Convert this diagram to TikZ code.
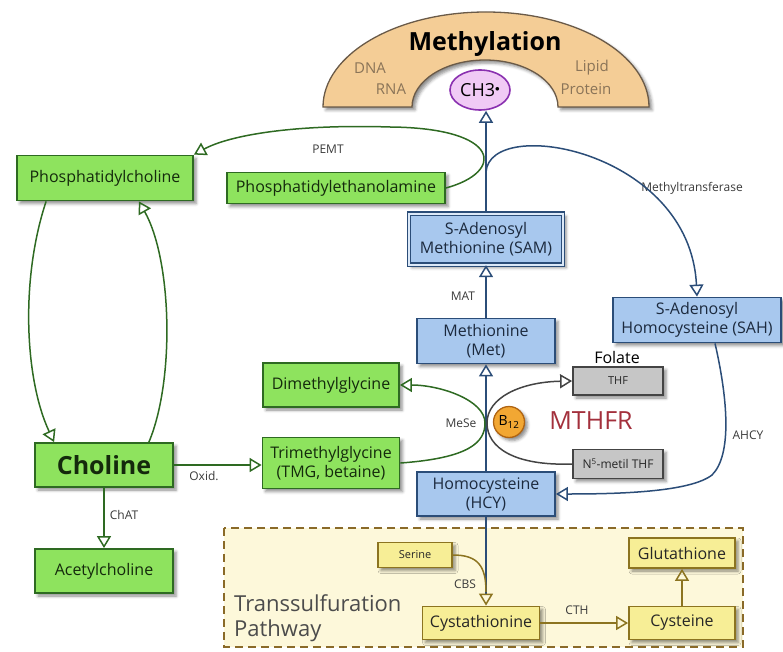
\documentclass[tikz,border=0pt]{standalone}
\usepackage{fontspec}
\setmainfont{Open Sans}
\usetikzlibrary{arrows.meta,shadows.blur,shapes.geometric}

\definecolor{grfill}{HTML}{8EE35E}
\definecolor{grline}{HTML}{2E6A22}
\definecolor{grtext}{HTML}{142A0C}
\definecolor{blfill}{HTML}{A8C8EE}
\definecolor{blline}{HTML}{2B4D78}
\definecolor{bltext}{HTML}{1C2A3E}
\definecolor{gyfill}{HTML}{C6C6C6}
\definecolor{gyline}{HTML}{444444}
\definecolor{ylfill}{HTML}{F7EE96}
\definecolor{ylline}{HTML}{8C7420}
\definecolor{pathfill}{HTML}{FDF8DA}
\definecolor{pathline}{HTML}{8A6A28}
\definecolor{archfill}{HTML}{F4CD96}
\definecolor{archline}{HTML}{6A5A48}
\definecolor{archtext}{HTML}{8A7458}
\definecolor{ch3fill}{HTML}{F0CAF5}
\definecolor{ch3line}{HTML}{8A30B0}
\definecolor{b12fill}{HTML}{F2A733}
\definecolor{b12line}{HTML}{B06412}
\definecolor{enzred}{HTML}{A3303C}
\definecolor{labtext}{HTML}{3A3A3A}

\begin{document}
\begin{tikzpicture}[x=1pt,y=-1pt]
\tikzstyle{every node}+=[inner sep=0pt]
\tikzstyle{shade}=[blur shadow={shadow xshift=3pt,shadow yshift=-3pt,shadow blur radius=3pt,shadow opacity=45}]
\tikzstyle{greenbox}=[draw=grline,fill=grfill,line width=1.8pt,align=center,text=grtext,font=\fontsize{16}{19}\selectfont,shade]
\tikzstyle{bluebox}=[draw=blline,fill=blfill,line width=1.8pt,align=center,text=bltext,font=\fontsize{16}{19}\selectfont,shade]
\tikzstyle{greybox}=[draw=gyline,fill=gyfill,line width=1.8pt,align=center,text=black!85,font=\fontsize{11}{13}\selectfont,shade]
\tikzstyle{yellowbox}=[draw=ylline,fill=ylfill,line width=1.8pt,align=center,text=black!85,font=\fontsize{16}{19}\selectfont,shade]
\tikzstyle{enzyme}=[text=labtext,font=\fontsize{12}{14}\selectfont]
\tikzstyle{flow}=[line width=1.5pt,-{Triangle[open,length=12pt,width=14pt,line width=1.5pt]}]
\useasboundingbox (0,0) rectangle (783,652);

% methylation arch
\draw [archline,fill=archfill,line width=1.3pt,shade] (323,107) arc[start angle=180,end angle=0,x radius=163pt,y radius=95pt] -- (558,107) arc[start angle=0,end angle=180,x radius=73pt,y radius=47pt] -- cycle;
\node (meth) at (485,44) {\fontsize{25}{28}\selectfont\bfseries Methylation};
\node [text=archtext,font=\fontsize{15}{18}\selectfont] (dna) at (370,68) {DNA};
\node [text=archtext,font=\fontsize{15}{18}\selectfont] (rna) at (391,89) {RNA};
\node [text=archtext,font=\fontsize{15}{18}\selectfont] (lipid) at (592,68) {Lipid};
\node [text=archtext,font=\fontsize{15}{18}\selectfont] (protein) at (586,89) {Protein};
\node [ellipse,draw=ch3line,fill=ch3fill,line width=1.6pt,minimum width=60,minimum height=40,font=\fontsize{18}{20}\selectfont] (ch3) at (480,90) {CH3\raisebox{5pt}{\fontsize{9}{9}\selectfont$\bullet$}};

% transsulfuration pathway
\draw [pathline,fill=pathfill,line width=2.5pt,dash pattern=on 8pt off 5pt] (224,528) rectangle (743,647);
\node [anchor=west,text=black!70,font=\fontsize{22}{26}\selectfont] (trans) at (234,603) {Transsulfuration};
\node [anchor=west,text=black!70,font=\fontsize{22}{26}\selectfont] (pathway) at (234,631) {Pathway};

% boxes
\node [greenbox,minimum width=176,minimum height=45] (pc) at (105,178) {Phosphatidylcholine};
\node [greenbox,minimum width=218,minimum height=31] (pe) at (336,188) {Phosphatidylethanolamine};
\node [bluebox,minimum width=154,minimum height=51,double=blfill!40,double distance=2pt,line width=1.3pt] (sam) at (486,239) {S-Adenosyl\\Methionine (SAM)};
\node [bluebox,minimum width=138,minimum height=45] (met) at (486,341) {Methionine\\(Met)};
\node [bluebox,minimum width=168,minimum height=45] (sah) at (697,320) {S-Adenosyl\\Homocysteine (SAH)};
\node [greybox,minimum width=90,minimum height=28] (thf) at (618,381) {THF};
\node [greybox,minimum width=90,minimum height=29,font=\fontsize{12}{14}\selectfont] (n5) at (618,464) {N\textsuperscript{5}-metil THF};
\node [circle,draw=b12line,fill=b12fill,line width=1.3pt,minimum size=31,font=\fontsize{14}{16}\selectfont,shade] (b12) at (509,422) {B\textsubscript{12}};
\node [greenbox,minimum width=136,minimum height=44] (dmg) at (331,385) {Dimethylglycine};
\node [greenbox,minimum width=137,minimum height=51] (tmg) at (331,463) {Trimethylglycine\\(TMG, betaine)};
\node [greenbox,minimum width=138,minimum height=44,font=\fontsize{25}{28}\selectfont\bfseries] (chol) at (104,465) {Choline};
\node [greenbox,minimum width=138,minimum height=44] (ach) at (104,571) {Acetylcholine};
\node [bluebox,minimum width=138,minimum height=44] (hcy) at (486,494) {Homocysteine\\(HCY)};
\node [yellowbox,minimum width=74,minimum height=25,font=\fontsize{11}{13}\selectfont] (ser) at (415,555) {Serine};
\node [yellowbox,minimum width=117,minimum height=33] (cysta) at (481,623) {Cystathionine};
\node [yellowbox,minimum width=106,minimum height=33] (cys) at (682,623) {Cysteine};
\node [yellowbox,minimum width=106,minimum height=30] (glu) at (682,553) {Glutathione};

% labels
\node [font=\fontsize{16}{18}\selectfont] (folate) at (617,357) {Folate};
\node [text=enzred,font=\fontsize{25}{28}\selectfont] (mthfr) at (591,421) {MTHFR};
\node [enzyme] (pemt) at (328,149) {PEMT};
\node [enzyme] (mat) at (463,296) {MAT};
\node [enzyme] (mtrans) at (692,188) {Methyltransferase};
\node [enzyme] (ahcy) at (748,435) {AHCY};
\node [enzyme] (mese) at (461,423) {MeSe};
\node [enzyme] (oxid) at (204,476) {Oxid.};
\node [enzyme] (chat) at (124,515) {ChAT};
\node [enzyme] (cbs) at (465,584) {CBS};
\node [enzyme] (cth) at (577,610) {CTH};
\coordinate (mtstart) at (486,172);
\coordinate (cbsjoin) at (486,592);

% methionine cycle
\draw [flow,blline] (hcy.north) -- (met.south);
\draw [flow,blline] (met.north) -- (sam.south);
\draw [flow,blline] (sam.north) -- (sam.north |- ch3.south);
\draw [flow,blline] (mtstart) .. controls (490,115) and (690,150) .. (sah.north);
\draw [flow,blline] ([xshift=18pt]sah.south) .. controls (728,400) and (732,455) .. (712,475) .. controls (690,492) and (620,494) .. (hcy.east);
\draw [flow,gyline] (n5.west) .. controls (515,466) and (487,448) .. (487,423) .. controls (487,398) and (520,382) .. (thf.west);

% choline side
\draw [flow,grline] (pe.east) .. controls (505,172) and (502,128) .. (390,127) .. controls (295,124) and (230,135) .. (pc.north east);
\draw [flow,grline] ([xshift=30pt]pc.south west) .. controls (20,280) and (25,380) .. ([xshift=20pt]chol.north west);
\draw [flow,grline] ([xshift=-25pt]chol.north east) .. controls (175,380) and (172,260) .. ([xshift=-55pt]pc.south east);
\draw [flow,grline] (chol.east) -- (chol.east -| tmg.west);
\draw [flow,grline] (chol.south) -- (ach.north);
\draw [flow,grline] (tmg.east) .. controls (470,458) and (485,442) .. (485,423) .. controls (485,400) and (440,385) .. (dmg.east);

% transsulfuration
\draw [line width=1.5pt,blline,-{Triangle[open,length=12pt,width=14pt,line width=1.5pt,color=ylline]}] (hcy.south) -- (hcy.south |- cysta.north);
\draw [line width=1.5pt,ylline] (ser.east) .. controls (478,555) and (486,566) .. (cbsjoin);
\draw [flow,ylline] (cysta.east) -- (cys.west);
\draw [flow,ylline] (cys.north) -- (glu.south);
\end{tikzpicture}
\end{document}
